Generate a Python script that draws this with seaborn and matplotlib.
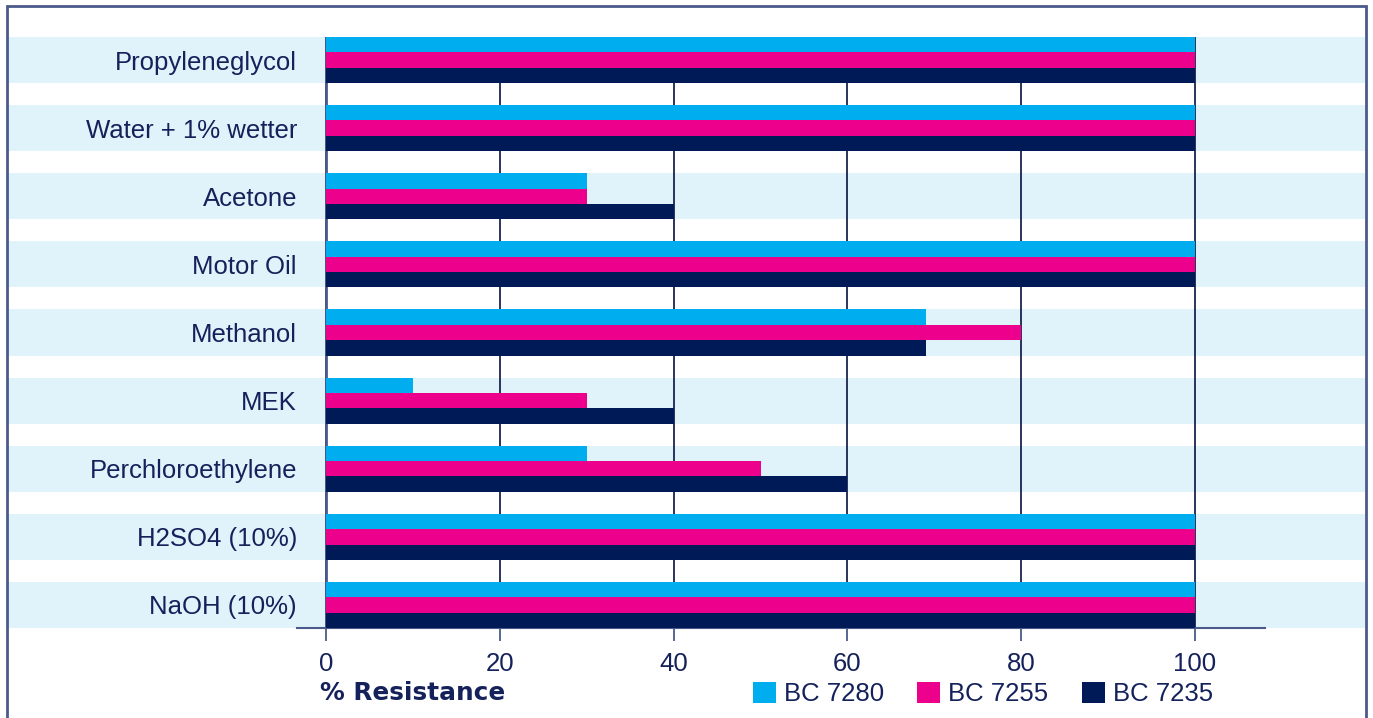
import pandas as pd
import numpy as np
from matplotlib import pyplot as plt
from matplotlib.patches import Rectangle
import matplotlib.transforms as mtransforms
import seaborn as sns

chemicals = ['Propyleneglycol', 'Water + 1% wetter', 'Acetone', 'Motor Oil', 'Methanol',
             'MEK', 'Perchloroethylene', 'H2SO4 (10%)', 'NaOH (10%)']
series = ['BC 7280', 'BC 7255', 'BC 7235']
bc7280 = [100, 100, 30, 100, 69, 10, 30, 100, 100]
bc7255 = [100, 100, 30, 100, 80, 30, 50, 100, 100]
bc7235 = [100, 100, 40, 100, 69, 40, 60, 100, 100]
x_ticks = [0, 20, 40, 60, 80, 100]

colors = ['#00aeef', '#ec008c', '#001a57']
band_color = '#e0f2fa'
text_color = '#14215a'
axis_color = '#4a5a8a'

df = pd.DataFrame({
    'chemical': chemicals * 3,
    'series': [s for s in series for _ in chemicals],
    'value': bc7280 + bc7255 + bc7235,
})

sns.set_style('white')
plt.rcParams['font.family'] = ['Liberation Sans', 'DejaVu Sans']

W, H = 1373, 718
fig = plt.figure(figsize=(W / 100, H / 100), dpi=100)
ax = fig.add_axes([297 / W, 1 - 628 / H, (1265 - 297) / W, (628 - 37) / H])
ax.set_facecolor('none')

group_w = 0.676
sns.barplot(data=df, y='chemical', x='value', hue='series', orient='h',
            palette=colors, width=group_w, saturation=1, linewidth=0,
            errorbar=None, ax=ax, zorder=3)

# light blue bands across the full frame
trans = mtransforms.blended_transform_factory(fig.transFigure, ax.transData)
for i in range(len(chemicals)):
    ax.add_patch(Rectangle((8 / W, i - group_w / 2), (1365 - 8) / W, group_w,
                           transform=trans, facecolor=band_color, edgecolor='none',
                           clip_on=False, zorder=0.1))

ax.set_xlim((297 - 326) / 8.69, (1265 - 326) / 8.69)
ax.set_ylim(len(chemicals) - 1 + group_w / 2, -group_w / 2)
ax.set_axisbelow(True)
ax.grid(axis='x', color='#1a2550', lw=1.3, zorder=0.5)
ax.grid(axis='y', visible=False)
ax.axvline(0, color=axis_color, lw=2, zorder=2)

ax.set_xticks(x_ticks)
ax.tick_params(axis='x', direction='out', length=9.5, width=1.3, color=axis_color,
               pad=8, labelsize=18.5, labelcolor=text_color, bottom=True)
ax.tick_params(axis='y', length=0, pad=0, labelsize=18.5, labelcolor=text_color)
ax.set_xlabel('')
ax.set_ylabel('')
for s in ['top', 'right', 'left']:
    ax.spines[s].set_visible(False)
ax.spines['bottom'].set_color(axis_color)
ax.spines['bottom'].set_linewidth(1.5)

fig.text(320 / W, 1 - 693 / H, '% Resistance', fontsize=17.8, fontweight='bold',
         family='DejaVu Sans', color=text_color, va='center', ha='left')

handles, labels = ax.get_legend_handles_labels()
ax.legend(handles, labels, loc='center left', bbox_to_anchor=(753 / W, 1 - 694 / H),
          bbox_transform=fig.transFigure, ncol=3, frameon=False, fontsize=18.5,
          labelcolor=text_color, handlelength=0.9, handleheight=0.9,
          handletextpad=0.3, columnspacing=1.3, borderpad=0, borderaxespad=0)

# outer frame
fig.patches.append(Rectangle((7 / W, -0.05), (1366 - 7) / W, 1.05 - 6 / H,
                             transform=fig.transFigure, fill=False,
                             edgecolor=axis_color, lw=2, zorder=10))

fig.savefig('out.png', dpi=100)
